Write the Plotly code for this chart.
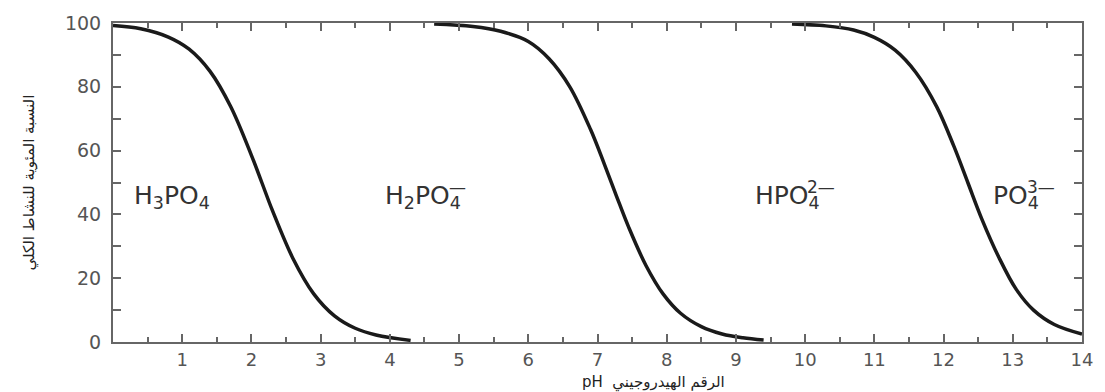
import plotly.graph_objects as go

# Data (pH vs % of total)
ph_h3po4 = [0.0, 0.4, 0.8, 1.1, 1.4, 1.7, 2.0, 2.15, 2.3, 2.6, 2.9, 3.2, 3.5, 3.8, 4.3]
pct_h3po4 = [99.2, 98.2, 95.6, 91.8, 84.9, 73.8, 58.5, 50.0, 41.4, 26.2, 15.1, 8.2, 4.3, 2.2, 0.5]

ph_h2po4 = [4.64, 5.2, 5.6, 6.0, 6.3, 6.6, 6.9, 7.1, 7.27, 7.45, 7.7, 7.95, 8.2, 8.5, 8.8, 9.1, 9.4]
pct_h2po4 = [99.7, 98.9, 97.4, 94.2, 88.8, 80.0, 66.6, 55.7, 46.0, 36.0, 24.0, 15.0, 9.0, 4.8, 2.5, 1.3, 0.6]

ph_hpo4 = [9.81, 10.3, 10.7, 11.0, 11.3, 11.6, 11.9, 12.15, 12.35, 12.55, 12.8, 13.05, 13.3, 13.6, 14.0]
pct_hpo4 = [99.7, 99.1, 97.8, 95.5, 91.5, 84.5, 73.8, 61.3, 50.0, 38.7, 26.5, 16.5, 10.0, 5.5, 2.5]

x_ticks = list(range(1, 15))
y_ticks = [0, 20, 40, 60, 80, 100]

species_main = ["H<sub>3</sub>PO<sub>4</sub>", "H<sub>2</sub>PO<sub>4</sub>",
                "HPO<sub>4</sub>", "PO<sub>4</sub>"]
species_x = [0.27, 3.90, 9.24, 12.68]
species_sup = ["", "—", "2—", "3—"]
sup_x = [None, 4.83, 10.0, 13.18]

y_title = "النسبة المئوية للنشاط الكلي"
x_title = "pH  الرقم الهيدروجيني"

fig = go.Figure()
for xs, ys in [(ph_h3po4, pct_h3po4), (ph_h2po4, pct_h2po4), (ph_hpo4, pct_hpo4)]:
    fig.add_trace(go.Scatter(x=xs, y=ys, mode="lines",
                             line=dict(color="#1a1a1a", width=3.5, shape="spline", smoothing=1.0),
                             hoverinfo="skip", showlegend=False))

label_font = dict(family="DejaVu Sans, sans-serif", size=25, color="#333333")
for txt, xv in zip(species_main, species_x):
    fig.add_annotation(x=xv, y=45.5, text=txt, showarrow=False, xanchor="left",
                       yanchor="middle", font=label_font)
for txt, xv in zip(species_sup, sup_x):
    if txt:
        fig.add_annotation(x=xv, y=48.5, text=txt, showarrow=False, xanchor="left",
                           yanchor="middle", font=dict(family="DejaVu Sans, sans-serif", size=17, color="#333333"))

fig.add_annotation(xref="paper", yref="paper", x=0, y=0.5, xshift=-84, text=y_title,
                   textangle=-90, showarrow=False, xanchor="center", yanchor="middle",
                   font=dict(family="DejaVu Sans, sans-serif", size=15, color="#222222"))
fig.add_annotation(xref="x", yref="paper", x=6.75, y=0, yshift=-40, text=x_title,
                   showarrow=False, xanchor="left", yanchor="middle",
                   font=dict(family="DejaVu Sans, sans-serif", size=15, color="#222222"))

fig.update_xaxes(range=[0, 14], tickvals=x_ticks, ticks="inside", ticklen=8, tickwidth=2,
                 tickcolor="#666666", showline=True, linecolor="#666666", linewidth=2,
                 mirror="allticks", showgrid=False, zeroline=False,
                 minor=dict(dtick=0.5, ticks="inside", ticklen=5, tickwidth=2, tickcolor="#666666"),
                 tickfont=dict(family="DejaVu Sans, sans-serif", size=18, color="#555555"))
fig.update_yaxes(range=[0, 100], tickvals=y_ticks, ticks="inside", ticklen=8, tickwidth=2,
                 tickcolor="#666666", showline=True, linecolor="#666666", linewidth=2,
                 mirror="allticks", showgrid=False, zeroline=False, ticklabelstandoff=6,
                 minor=dict(dtick=10, ticks="inside", ticklen=8, tickwidth=2, tickcolor="#666666"),
                 tickfont=dict(family="DejaVu Sans, sans-serif", size=19, color="#555555"))

fig.update_layout(width=1105, height=392, margin=dict(l=113, r=16, t=16, b=50),
                  plot_bgcolor="white", paper_bgcolor="white")
fig.write_html("out.html", config={"displayModeBar": False},
               post_script="document.body.style.margin='0';")
